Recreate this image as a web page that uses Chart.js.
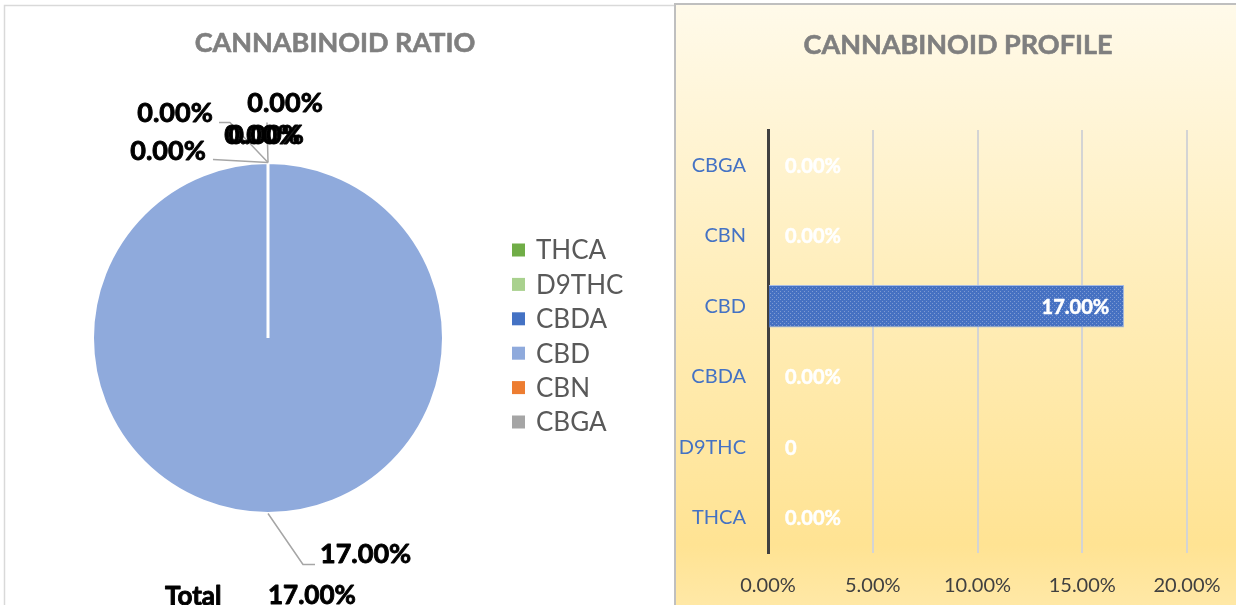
<!DOCTYPE html>
<html>
<head>
<meta charset="utf-8">
<script src="https://cdn.jsdelivr.net/npm/chart.js@4.4.1/dist/chart.umd.min.js"></script>
<style>
  html,body{margin:0;padding:0;background:#fff;overflow:hidden;width:1236px;height:605px;}
  #pie{position:absolute;left:0;top:0;}
  #bar{position:absolute;left:673px;top:0;}
</style>
</head>
<body>
<canvas id="pie" width="675" height="605"></canvas>
<canvas id="bar" width="563" height="605"></canvas>
<script>
// ---------- DATA ----------
const categories = ['THCA', 'D9THC', 'CBDA', 'CBD', 'CBN', 'CBGA'];
const ratioValues = [0, 0, 0, 17, 0, 0];          // percent
const profileValues = [0, 0, 0, 17, 0, 0];        // percent
const profileFormats = ['pct', 'general', 'pct', 'pct', 'pct', 'pct'];
const xTicks = [0, 5, 10, 15, 20];                // percent
const ratioTitle = 'CANNABINOID RATIO';
const profileTitle = 'CANNABINOID PROFILE';
const totalLabel = 'Total';

// ---------- STYLE ----------
const sliceColors = ['#70AD47', '#A9D18E', '#4472C4', '#8FAADC', '#ED7D31', '#A5A5A5'];
const FONT = 'Lato, "Open Sans", sans-serif';
const pct = v => v.toFixed(2) + '%';
const fmt = (v, f) => f === 'general' ? String(v) : pct(v);

function heavyText(ctx, text, x, y, w) {
  ctx.lineWidth = w;
  ctx.lineJoin = 'round';
  ctx.strokeStyle = ctx.fillStyle;
  ctx.strokeText(text, x, y);
  ctx.fillText(text, x, y);
}

// layout of the zero-value labels (offsets from the slice anchor)
const zeroLabelLayout = {
  0: {dx: -100, dy: -11, leader: [[0, 0], [-55, -3]]},
  1: {dx: -93, dy: -49, leader: [[0, 0], [-38, -40], [-49, -40]]},
  2: {dx: 17, dy: -59, leader: [[0, 0], [-1, -40]]},
  4: {dx: -6, dy: -27, leader: null},
  5: {dx: -2, dy: -27, leader: null}
};

const pieDecor = {
  id: 'pieDecor',
  beforeDraw(chart) {
    const ctx = chart.ctx;
    ctx.save();
    ctx.strokeStyle = '#D9D9D9';
    ctx.lineWidth = 1.5;
    ctx.beginPath();
    ctx.moveTo(4.5, 605); ctx.lineTo(4.5, 5.5); ctx.lineTo(675, 5.5);
    ctx.stroke();
    ctx.fillStyle = '#7F7F7F';
    ctx.font = 'bold 27px ' + FONT;
    ctx.textAlign = 'center';
    ctx.textBaseline = 'middle';
    heavyText(ctx, ratioTitle, 335, 43, 0.6);
    ctx.restore();
  },
  afterDatasetsDraw(chart) {
    const ctx = chart.ctx;
    const meta = chart.getDatasetMeta(0);
    ctx.save();
    ctx.font = 'bold 27px ' + FONT;
    ctx.textBaseline = 'middle';
    meta.data.forEach((arc, i) => {
      const p = arc.getProps(['x', 'y', 'startAngle', 'endAngle', 'outerRadius'], true);
      const mid = (p.startAngle + p.endAngle) / 2;
      const ax = p.x + Math.cos(mid) * p.outerRadius;
      const ay = p.y + Math.sin(mid) * p.outerRadius;
      const v = ratioValues[i];
      ctx.strokeStyle = '#A6A6A6';
      ctx.lineWidth = 1.5;
      ctx.fillStyle = '#000';
      if (v > 0) {
        ctx.beginPath();
        ctx.moveTo(ax, ay);
        ctx.lineTo(ax + 35, ay + 51);
        ctx.lineTo(ax + 47, ay + 51);
        ctx.stroke();
        ctx.textAlign = 'left';
        heavyText(ctx, pct(v), ax + 52, ay + 41, 0.9);
      } else {
        const L = zeroLabelLayout[i];
        if (!L) return;
        if (L.leader) {
          ctx.beginPath();
          L.leader.forEach((pt, k) => {
            if (k === 0) ctx.moveTo(ax + pt[0], ay + pt[1]);
            else ctx.lineTo(ax + pt[0], ay + pt[1]);
          });
          ctx.stroke();
        }
        ctx.textAlign = 'center';
        heavyText(ctx, pct(v), ax + L.dx, ay + L.dy, 0.9);
      }
    });
    // legend
    ctx.font = '26px ' + FONT;
    ctx.textAlign = 'left';
    chart.data.labels.forEach((lab, i) => {
      const cy = 250 + i * 34.4;
      ctx.fillStyle = chart.data.datasets[0].backgroundColor[i];
      ctx.fillRect(512, cy - 6.5, 13, 13);
      ctx.fillStyle = '#595959';
      ctx.fillText(lab, 536, cy + 1);
    });
    // total
    const total = ratioValues.reduce((a, b) => a + b, 0);
    ctx.fillStyle = '#000';
    ctx.font = 'bold 26px ' + FONT;
    ctx.textBaseline = 'alphabetic';
    heavyText(ctx, totalLabel, 165, 605, 0.9);
    heavyText(ctx, pct(total), 268, 604, 0.9);
    ctx.restore();
  }
};

function makePattern() {
  const c = document.createElement('canvas');
  c.width = 4; c.height = 4;
  const g = c.getContext('2d');
  g.fillStyle = '#4671C2';
  g.fillRect(0, 0, 4, 4);
  g.fillStyle = '#7E9AD3';
  g.fillRect(1, 1, 1, 1);
  g.fillRect(3, 3, 1, 1);
  return g.createPattern(c, 'repeat');
}

const barDecor = {
  id: 'barDecor',
  beforeDraw(chart) {
    const ctx = chart.ctx;
    const w = chart.width, h = chart.height;
    ctx.save();
    const grad = ctx.createLinearGradient(0, 4, 0, h);
    grad.addColorStop(0, '#FFFAEA');
    grad.addColorStop(0.45, '#FFEEBC');
    grad.addColorStop(0.9, '#FFE393');
    grad.addColorStop(1, '#FFE8A6');
    ctx.fillStyle = grad;
    ctx.fillRect(2, 4, w, h);
    ctx.strokeStyle = '#BFBFBF';
    ctx.lineWidth = 2;
    ctx.beginPath();
    ctx.moveTo(2, h); ctx.lineTo(2, 4); ctx.lineTo(w, 4);
    ctx.stroke();
    ctx.fillStyle = '#7F7F7F';
    ctx.font = 'bold 27px ' + FONT;
    ctx.textAlign = 'center';
    ctx.textBaseline = 'middle';
    heavyText(ctx, profileTitle, 285, 45, 0.6);
    ctx.restore();
  },
  afterDatasetsDraw(chart) {
    const ctx = chart.ctx;
    const meta = chart.getDatasetMeta(0);
    ctx.save();
    ctx.font = 'bold 20px ' + FONT;
    ctx.fillStyle = '#FFFFFF';
    ctx.textBaseline = 'middle';
    meta.data.forEach((bar, i) => {
      const v = profileValues[i];
      const text = fmt(v, profileFormats[i]);
      if (v > 0) {
        ctx.textAlign = 'right';
        heavyText(ctx, text, bar.x - 15, bar.y + 1, 0.5);
      } else {
        ctx.textAlign = 'left';
        heavyText(ctx, text, bar.base + 17, bar.y + 1, 0.5);
      }
    });
    ctx.restore();
  }
};

function build() {
  new Chart(document.getElementById('pie'), {
    type: 'pie',
    data: {
      labels: categories,
      datasets: [{
        data: ratioValues,
        backgroundColor: sliceColors,
        borderColor: '#FFFFFF',
        borderWidth: 3
      }]
    },
    options: {
      responsive: false,
      animation: false,
      layout: {padding: {left: 91, right: 230, top: 161, bottom: 90}},
      plugins: {legend: {display: false}, tooltip: {enabled: false}, title: {display: false}}
    },
    plugins: [pieDecor]
  });

  new Chart(document.getElementById('bar'), {
    type: 'bar',
    data: {
      labels: categories,
      datasets: [{
        data: profileValues,
        backgroundColor: makePattern(),
        borderColor: '#A7BCE4',
        borderWidth: 1,
        barPercentage: 0.6,
        categoryPercentage: 1
      }]
    },
    options: {
      indexAxis: 'y',
      responsive: false,
      animation: false,
      layout: {padding: {left: 0, right: 49, top: 130, bottom: 0}},
      plugins: {legend: {display: false}, tooltip: {enabled: false}},
      scales: {
        x: {
          min: xTicks[0],
          max: xTicks[xTicks.length - 1],
          afterBuildTicks: s => { s.ticks = xTicks.map(v => ({value: v})); },
          afterFit: s => { s.height = 52; s.paddingLeft = 0; s.paddingRight = 0; },
          grid: {
            color: c => (c.tick && c.tick.value === 0) ? 'rgba(0,0,0,0)' : '#D4D4D4',
            lineWidth: 2,
            drawTicks: false
          },
          border: {display: false},
          ticks: {
            padding: 21,
            color: '#404040',
            font: {family: FONT, size: 20},
            callback: v => pct(v)
          }
        },
        y: {
          reverse: true,
          afterFit: s => { s.width = 95; s.paddingTop = 0; s.paddingBottom = 0; },
          grid: {display: false, drawTicks: false},
          border: {display: true, color: '#404040', width: 3},
          ticks: {
            padding: 22,
            color: '#4472C4',
            font: {family: FONT, size: 20}
          }
        }
      }
    },
    plugins: [barDecor]
  });
}

Promise.all([
  document.fonts.load('bold 20px Lato'),
  document.fonts.load('20px Lato')
]).then(build, build);
</script>
</body>
</html>
